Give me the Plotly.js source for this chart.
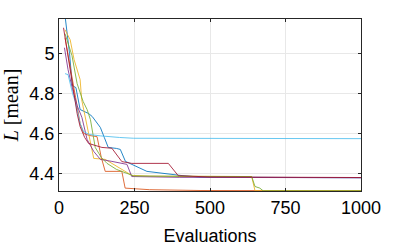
<!DOCTYPE html>
<html>
<head>
<meta charset="utf-8">
<script src="https://cdn.plot.ly/plotly-3.0.1.min.js"></script>
<style>html,body{margin:0;padding:0;background:#fff;}#chart{width:399px;height:247px;}</style>
</head>
<body>
<div id="chart"></div>
<script>
// Series data (evaluations, mean L)
const blueX = [20,35,44,56,70,85,98,110,137,150,163,190,203,220,262,291,400,467,1000];
const blueY = [5.19,5.0,4.84,4.83,4.72,4.71,4.70,4.685,4.63,4.58,4.53,4.525,4.52,4.46,4.43,4.41,4.39,4.381,4.378];

const lightBlueX = [20,30,45,54,70,81,100,137,200,247,1000];
const lightBlueY = [4.90,4.895,4.80,4.76,4.65,4.61,4.595,4.588,4.58,4.576,4.574];

const orangeX = [20,40,55,70,82,100,126,140,153,208,219,300,467,1000];
const orangeY = [5.08,4.92,4.78,4.65,4.60,4.59,4.584,4.48,4.41,4.41,4.326,4.318,4.314,4.313];

const yellowX = [20,37,50,60,70,75,93,115,153,208,241,300,638,649,1000];
const yellowY = [5.12,5.07,4.97,4.92,4.87,4.77,4.63,4.475,4.47,4.42,4.39,4.386,4.384,4.3125,4.3125];

const greenX = [20,43,60,80,93,104,120,140,159,190,225,247,400,638,649,665,676,1000];
const greenY = [5.10,4.99,4.85,4.76,4.72,4.67,4.53,4.48,4.45,4.42,4.40,4.387,4.385,4.384,4.334,4.326,4.3125,4.3125];

const purpleX = [18,30,45,60,76,93,115,137,175,203,225,241,400,1000];
const purpleY = [5.03,4.92,4.82,4.74,4.68,4.57,4.51,4.47,4.46,4.45,4.445,4.384,4.38,4.378];

const redX = [15,30,45,60,70,85,98,142,175,208,241,362,395,500,1000];
const redY = [5.13,4.98,4.85,4.70,4.634,4.58,4.55,4.53,4.526,4.459,4.45,4.45,4.388,4.382,4.379];

const xTicks = [0,250,500,750,1000];
const yTicks = [4.4,4.6,4.8,5];
const xTitle = 'Evaluations';
const yTitle = '<i>L</i> [mean]';

const series = [
  {x: blueX, y: blueY, color: '#0072BD'},
  {x: orangeX, y: orangeY, color: '#D95319'},
  {x: yellowX, y: yellowY, color: '#EDB120'},
  {x: purpleX, y: purpleY, color: '#7E2F8E'},
  {x: greenX, y: greenY, color: '#77AC30'},
  {x: lightBlueX, y: lightBlueY, color: '#4DBEEE'},
  {x: redX, y: redY, color: '#A2142F'}
];

const traces = series.map(s => ({
  x: s.x, y: s.y, type: 'scatter', mode: 'lines',
  line: {color: s.color, width: 1}, opacity: 0.85, hoverinfo: 'skip'
}));

const axisCommon = {
  showline: true, mirror: 'ticks', linecolor: '#262626', linewidth: 1,
  ticks: 'inside', ticklen: 3, tickcolor: '#262626',
  showgrid: true, gridcolor: '#e8e8e8', gridwidth: 1,
  zeroline: false,
  tickfont: {family: 'Liberation Sans, Arial, sans-serif', size: 18, color: '#000'}
};

const layout = {
  width: 399, height: 247,
  margin: {l: 58.6, r: 37.6, t: 18.5, b: 56, pad: 0},
  paper_bgcolor: '#fff', plot_bgcolor: '#fff',
  showlegend: false,
  xaxis: Object.assign({}, axisCommon, {
    range: [0, 1000], tickvals: xTicks, ticktext: xTicks.map(String),
    title: {text: xTitle, font: {family: 'Liberation Sans, Arial, sans-serif', size: 18, color: '#000'}, standoff: 12}
  }),
  yaxis: Object.assign({}, axisCommon, {
    range: [4.3115, 5.174], tickvals: yTicks, ticktext: yTicks.map(v => String(v)),
    title: {text: yTitle, font: {family: 'Liberation Serif, Times New Roman, serif', size: 20, color: '#000'}, standoff: 5}
  })
};

Plotly.newPlot('chart', traces, layout, {staticPlot: true, displayModeBar: false});
</script>
</body>
</html>
